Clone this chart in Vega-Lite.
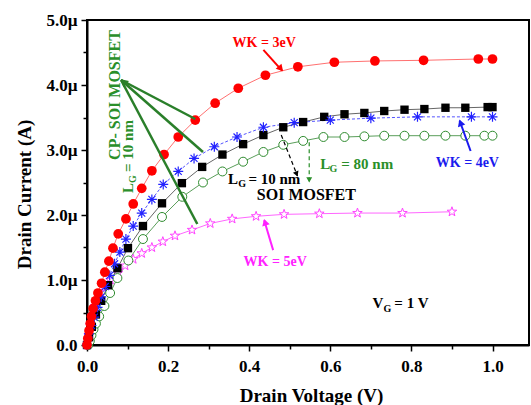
{
 "$schema": "https://vega.github.io/schema/vega-lite/v6.json",
 "width": 442, "height": 325,
 "autosize": {"type": "none"},
 "padding": {"left": 87, "top": 20, "right": 2, "bottom": 60},
 "background": "white",
 "config": {
  "view": {"stroke": "black", "strokeWidth": 2},
  "axis": {"grid": false, "domainColor": "black", "domainWidth": 2, "tickColor": "black", "tickWidth": 1.5,
   "labelFont": "Liberation Serif", "labelFontWeight": "bold", "labelFontSize": 17, "labelColor": "black",
   "titleFont": "Liberation Serif", "titleFontWeight": "bold", "titleFontSize": 19, "titleColor": "black",
   "labelFlush": false, "labelOverlap": false},
  "text": {"font": "Liberation Serif", "fontWeight": "bold"}
 },
 "datasets": {
  "curves": [
   {"s":"r","x":0,"y":0},{"s":"r","x":0.002,"y":0.1},{"s":"r","x":0.005,"y":0.22},{"s":"r","x":0.008,"y":0.33},{"s":"r","x":0.011,"y":0.44},{"s":"r","x":0.015,"y":0.56},{"s":"r","x":0.021,"y":0.68},{"s":"r","x":0.027,"y":0.8},{"s":"r","x":0.036,"y":0.95},{"s":"r","x":0.044,"y":1.12},{"s":"r","x":0.054,"y":1.29},{"s":"r","x":0.064,"y":1.49},{"s":"r","x":0.077,"y":1.71},{"s":"r","x":0.096,"y":1.94},{"s":"r","x":0.114,"y":2.17},{"s":"r","x":0.135,"y":2.41},{"s":"r","x":0.16,"y":2.68},{"s":"r","x":0.19,"y":2.93},{"s":"r","x":0.225,"y":3.2},{"s":"r","x":0.267,"y":3.46},{"s":"r","x":0.316,"y":3.72},{"s":"r","x":0.373,"y":3.95},{"s":"r","x":0.44,"y":4.15},{"s":"r","x":0.52,"y":4.28},{"s":"r","x":0.61,"y":4.35},{"s":"r","x":0.71,"y":4.37},{"s":"r","x":0.83,"y":4.38},{"s":"r","x":0.965,"y":4.4},{"s":"r","x":1.0,"y":4.4},
   {"s":"b","x":0,"y":0},{"s":"b","x":0.005,"y":0.17},{"s":"b","x":0.011,"y":0.3},{"s":"b","x":0.018,"y":0.43},{"s":"b","x":0.026,"y":0.58},{"s":"b","x":0.035,"y":0.74},{"s":"b","x":0.045,"y":0.9},{"s":"b","x":0.056,"y":1.07},{"s":"b","x":0.068,"y":1.25},{"s":"b","x":0.081,"y":1.43},{"s":"b","x":0.096,"y":1.63},{"s":"b","x":0.114,"y":1.83},{"s":"b","x":0.135,"y":2.03},{"s":"b","x":0.16,"y":2.24},{"s":"b","x":0.188,"y":2.47},{"s":"b","x":0.225,"y":2.67},{"s":"b","x":0.264,"y":2.87},{"s":"b","x":0.314,"y":3.05},{"s":"b","x":0.37,"y":3.2},{"s":"b","x":0.435,"y":3.35},{"s":"b","x":0.511,"y":3.42},{"s":"b","x":0.6,"y":3.46},{"s":"b","x":0.7,"y":3.49},{"s":"b","x":0.815,"y":3.51},{"s":"b","x":0.948,"y":3.51},{"s":"b","x":1.0,"y":3.51},
   {"s":"k","x":0,"y":0},{"s":"k","x":0.005,"y":0.12},{"s":"k","x":0.012,"y":0.28},{"s":"k","x":0.022,"y":0.47},{"s":"k","x":0.035,"y":0.68},{"s":"k","x":0.052,"y":0.92},{"s":"k","x":0.075,"y":1.18},{"s":"k","x":0.101,"y":1.49},{"s":"k","x":0.138,"y":1.83},{"s":"k","x":0.185,"y":2.18},{"s":"k","x":0.234,"y":2.49},{"s":"k","x":0.284,"y":2.74},{"s":"k","x":0.334,"y":2.93},{"s":"k","x":0.385,"y":3.09},{"s":"k","x":0.435,"y":3.23},{"s":"k","x":0.484,"y":3.35},{"s":"k","x":0.533,"y":3.43},{"s":"k","x":0.585,"y":3.51},{"s":"k","x":0.635,"y":3.55},{"s":"k","x":0.684,"y":3.57},{"s":"k","x":0.733,"y":3.6},{"s":"k","x":0.783,"y":3.62},{"s":"k","x":0.832,"y":3.63},{"s":"k","x":0.884,"y":3.65},{"s":"k","x":0.933,"y":3.65},{"s":"k","x":0.988,"y":3.66},{"s":"k","x":1.0,"y":3.66},
   {"s":"g","x":0.003,"y":0.0},{"s":"g","x":0.007,"y":0.06},{"s":"g","x":0.011,"y":0.15},{"s":"g","x":0.016,"y":0.24},{"s":"g","x":0.022,"y":0.33},{"s":"g","x":0.03,"y":0.44},{"s":"g","x":0.043,"y":0.6},{"s":"g","x":0.057,"y":0.8},{"s":"g","x":0.075,"y":1.03},{"s":"g","x":0.102,"y":1.3},{"s":"g","x":0.138,"y":1.63},{"s":"g","x":0.185,"y":1.97},{"s":"g","x":0.235,"y":2.28},{"s":"g","x":0.286,"y":2.5},{"s":"g","x":0.334,"y":2.67},{"s":"g","x":0.385,"y":2.82},{"s":"g","x":0.435,"y":2.97},{"s":"g","x":0.484,"y":3.08},{"s":"g","x":0.533,"y":3.14},{"s":"g","x":0.583,"y":3.2},{"s":"g","x":0.635,"y":3.2},{"s":"g","x":0.684,"y":3.21},{"s":"g","x":0.733,"y":3.22},{"s":"g","x":0.783,"y":3.22},{"s":"g","x":0.832,"y":3.22},{"s":"g","x":0.884,"y":3.22},{"s":"g","x":0.933,"y":3.22},{"s":"g","x":0.98,"y":3.22},{"s":"g","x":1.0,"y":3.22},
   {"s":"m","x":0,"y":0},{"s":"m","x":0.004,"y":0.15},{"s":"m","x":0.008,"y":0.3},{"s":"m","x":0.013,"y":0.45},{"s":"m","x":0.02,"y":0.6},{"s":"m","x":0.03,"y":0.75},{"s":"m","x":0.042,"y":0.88},{"s":"m","x":0.058,"y":1.0},{"s":"m","x":0.077,"y":1.11},{"s":"m","x":0.094,"y":1.22},{"s":"m","x":0.114,"y":1.32},{"s":"m","x":0.135,"y":1.41},{"s":"m","x":0.16,"y":1.5},{"s":"m","x":0.187,"y":1.59},{"s":"m","x":0.217,"y":1.68},{"s":"m","x":0.259,"y":1.77},{"s":"m","x":0.304,"y":1.87},{"s":"m","x":0.358,"y":1.94},{"s":"m","x":0.417,"y":1.98},{"s":"m","x":0.486,"y":2.01},{"s":"m","x":0.573,"y":2.02},{"s":"m","x":0.667,"y":2.03},{"s":"m","x":0.778,"y":2.03},{"s":"m","x":0.9,"y":2.05}
  ],
  "arrows": [
   {"s":"r","x":0.435,"y":4.54,"x2":0.481,"y2":4.22},
   {"s":"b","x":0.946,"y":2.985,"x2":0.919,"y2":3.45},
   {"s":"m","x":0.459,"y":1.46,"x2":0.437,"y2":1.92},
   {"s":"g","x":0.267,"y":3.477,"x2":0.084,"y2":4.077},
   {"s":"g","x":0.286,"y":2.969,"x2":0.084,"y2":4.077},
   {"s":"g","x":0.272,"y":1.862,"x2":0.084,"y2":4.077},
   {"s":"kd","x":0.479,"y":3.23,"x2":0.519,"y2":2.6},
   {"s":"gd","x":0.548,"y":3.12,"x2":0.548,"y2":2.51}
  ],
  "heads": [
   {"s":"r","x":0.478,"y":4.25},
   {"s":"b","x":0.921,"y":3.42},
   {"s":"m","x":0.439,"y":1.89},
   {"s":"g","x":0.09,"y":4.05},
   {"s":"kd","x":0.517,"y":2.63},
   {"s":"gd","x":0.548,"y":2.54}
  ],
  "labels": [
   {"s":"r","t":"WK = 3eV","x":0.437,"y":4.646},
   {"s":"b","t":"WK = 4eV","x":0.938,"y":2.8},
   {"s":"m","t":"WK = 5eV","x":0.464,"y":1.277},
   {"s":"gr","t":"CP- SOI MOSFET","x":0.069,"y":3.846},
   {"s":"grm","t":"L","x":0.1012,"y":2.338},
   {"s":"grm","t":"= 10 nm","x":0.1012,"y":2.662},
   {"s":"grs","t":"G","x":0.1136,"y":2.492},
   {"s":"gm","t":"L","x":0.575,"y":2.785},
   {"s":"gm","t":"= 80 nm","x":0.627,"y":2.785},
   {"s":"gs","t":"G","x":0.598,"y":2.708},
   {"s":"km","t":"L","x":0.348,"y":2.554},
   {"s":"km","t":"= 10 nm","x":0.398,"y":2.554},
   {"s":"ks","t":"G","x":0.373,"y":2.477},
   {"s":"km","t":"V","x":0.704,"y":0.646},
   {"s":"km","t":"= 1 V","x":0.758,"y":0.646},
   {"s":"ks","t":"G","x":0.731,"y":0.554},
   {"s":"kb","t":"SOI MOSFET","x":0.541,"y":2.308}
  ]
 },
 "encoding": {
  "x": {"field": "x", "type": "quantitative", "scale": {"domain": [0, 1.09], "nice": false},
   "axis": {"title": "Drain Voltage (V)", "values": [0,0.1,0.2,0.3,0.4,0.5,0.6,0.7,0.8,0.9,1.0],
    "labelExpr": "round(datum.value*10)%2==0 ? format(datum.value,'.1f') : ''",
    "tickSize": {"condition": {"test": "round(datum.value*10)%2==0", "value": 6}, "value": 4},
    "labelPadding": 7, "titleX": 224, "titleY": 56, "titleBaseline": "alphabetic"}},
  "y": {"field": "y", "type": "quantitative", "scale": {"domain": [0, 5], "nice": false},
   "axis": {"title": "Drain Current (A)", "values": [0,0.5,1,1.5,2,2.5,3,3.5,4,4.5,5],
    "labelExpr": "round(datum.value*2)%2==0 ? (datum.value==0 ? '0.0' : format(datum.value,'.1f')+'µ') : ''",
    "tickSize": {"condition": {"test": "round(datum.value*2)%2==0", "value": 6}, "value": 4},
    "labelPadding": 4, "titleX": -57, "titleY": 174, "titleBaseline": "alphabetic"}}
 },
 "layer": [
  {"data": {"name": "curves"}, "transform": [{"filter": "datum.s=='m'"}], "mark": {"type": "line", "color": "#ff66ff", "strokeWidth": 1}},
  {"data": {"name": "curves"}, "transform": [{"filter": "datum.s=='g'"}], "mark": {"type": "line", "color": "#5a9e5a", "strokeWidth": 1}},
  {"data": {"name": "curves"}, "transform": [{"filter": "datum.s=='k'"}], "mark": {"type": "line", "color": "#666666", "strokeWidth": 1}},
  {"data": {"name": "curves"}, "transform": [{"filter": "datum.s=='b'"}], "mark": {"type": "line", "color": "#5555ff", "strokeWidth": 1, "strokeDash": [3, 2]}},
  {"data": {"name": "curves"}, "transform": [{"filter": "datum.s=='r'"}], "mark": {"type": "line", "color": "#ff7070", "strokeWidth": 1}},
  {"data": {"name": "curves"}, "transform": [{"filter": "datum.s=='m'"}], "mark": {"type": "point", "shape": "M0,-1L0.235,-0.324L0.951,-0.309L0.38,0.124L0.588,0.809L0,0.4L-0.588,0.809L-0.38,0.124L-0.951,-0.309L-0.235,-0.324Z", "size": 100, "filled": false, "fill": "white", "fillOpacity": 1, "stroke": "#ff44ff", "strokeWidth": 1, "opacity": 1}},
  {"data": {"name": "curves"}, "transform": [{"filter": "datum.s=='g'"}], "mark": {"type": "point", "shape": "circle", "size": 80, "filled": false, "fill": "white", "fillOpacity": 1, "stroke": "#2e8b2e", "strokeWidth": 1, "opacity": 1}},
  {"data": {"name": "curves"}, "transform": [{"filter": "datum.s=='k'"}], "mark": {"type": "point", "shape": "square", "size": 70, "filled": true, "color": "#000000", "opacity": 1}},
  {"data": {"name": "curves"}, "transform": [{"filter": "datum.s=='b'"}], "mark": {"type": "point", "shape": "M-1,0L1,0M0,-1L0,1M-0.7,-0.7L0.7,0.7M-0.7,0.7L0.7,-0.7", "size": 100, "filled": false, "stroke": "#2222ff", "strokeWidth": 1.2, "opacity": 1}},
  {"data": {"name": "curves"}, "transform": [{"filter": "datum.s=='r'"}], "mark": {"type": "point", "shape": "circle", "size": 95, "filled": true, "color": "#ff0000", "opacity": 1}},
  {"data": {"name": "arrows"}, "transform": [{"filter": "datum.s=='r'"}], "mark": {"type": "rule", "color": "#ff0000", "strokeWidth": 2}, "encoding": {"x2": {"field": "x2"}, "y2": {"field": "y2"}}},
  {"data": {"name": "arrows"}, "transform": [{"filter": "datum.s=='b'"}], "mark": {"type": "rule", "color": "#1a1aee", "strokeWidth": 2}, "encoding": {"x2": {"field": "x2"}, "y2": {"field": "y2"}}},
  {"data": {"name": "arrows"}, "transform": [{"filter": "datum.s=='m'"}], "mark": {"type": "rule", "color": "#ff22ff", "strokeWidth": 2}, "encoding": {"x2": {"field": "x2"}, "y2": {"field": "y2"}}},
  {"data": {"name": "arrows"}, "transform": [{"filter": "datum.s=='g'"}], "mark": {"type": "rule", "color": "#2a7f2a", "strokeWidth": 2.5}, "encoding": {"x2": {"field": "x2"}, "y2": {"field": "y2"}}},
  {"data": {"name": "arrows"}, "transform": [{"filter": "datum.s=='kd'"}], "mark": {"type": "rule", "color": "#000000", "strokeWidth": 1.2, "strokeDash": [4, 3]}, "encoding": {"x2": {"field": "x2"}, "y2": {"field": "y2"}}},
  {"data": {"name": "arrows"}, "transform": [{"filter": "datum.s=='gd'"}], "mark": {"type": "rule", "color": "#2a8f2a", "strokeWidth": 1.2, "strokeDash": [4, 3]}, "encoding": {"x2": {"field": "x2"}, "y2": {"field": "y2"}}},
  {"data": {"name": "heads"}, "transform": [{"filter": "datum.s=='r'"}], "mark": {"type": "point", "shape": "triangle-up", "size": 60, "filled": true, "color": "#ff0000", "opacity": 1, "angle": 138}},
  {"data": {"name": "heads"}, "transform": [{"filter": "datum.s=='b'"}], "mark": {"type": "point", "shape": "triangle-up", "size": 60, "filled": true, "color": "#1a1aee", "opacity": 1, "angle": -20}},
  {"data": {"name": "heads"}, "transform": [{"filter": "datum.s=='m'"}], "mark": {"type": "point", "shape": "triangle-up", "size": 60, "filled": true, "color": "#ff22ff", "opacity": 1, "angle": -17}},
  {"data": {"name": "heads"}, "transform": [{"filter": "datum.s=='g'"}], "mark": {"type": "point", "shape": "triangle-up", "size": 70, "filled": true, "color": "#2a7f2a", "opacity": 1, "angle": -48}},
  {"data": {"name": "heads"}, "transform": [{"filter": "datum.s=='kd'"}], "mark": {"type": "point", "shape": "triangle-up", "size": 35, "filled": true, "color": "#000000", "opacity": 1, "angle": 158}},
  {"data": {"name": "heads"}, "transform": [{"filter": "datum.s=='gd'"}], "mark": {"type": "point", "shape": "triangle-up", "size": 35, "filled": true, "color": "#2a8f2a", "opacity": 1, "angle": 180}},
  {"data": {"name": "labels"}, "transform": [{"filter": "datum.s=='r'"}], "mark": {"type": "text", "color": "#ff0000", "fontSize": 14, "align": "center", "baseline": "middle"}, "encoding": {"text": {"field": "t"}}},
  {"data": {"name": "labels"}, "transform": [{"filter": "datum.s=='b'"}], "mark": {"type": "text", "color": "#1a1aee", "fontSize": 14, "align": "center", "baseline": "middle"}, "encoding": {"text": {"field": "t"}}},
  {"data": {"name": "labels"}, "transform": [{"filter": "datum.s=='m'"}], "mark": {"type": "text", "color": "#ff22ff", "fontSize": 14, "align": "center", "baseline": "middle"}, "encoding": {"text": {"field": "t"}}},
  {"data": {"name": "labels"}, "transform": [{"filter": "datum.s=='gr'"}], "mark": {"type": "text", "color": "#2a8f2a", "fontSize": 16, "align": "center", "baseline": "middle", "angle": 270}, "encoding": {"text": {"field": "t"}}},
  {"data": {"name": "labels"}, "transform": [{"filter": "datum.s=='grm'"}], "mark": {"type": "text", "color": "#2a8f2a", "fontSize": 15, "align": "left", "baseline": "middle", "angle": 270}, "encoding": {"text": {"field": "t"}}},
  {"data": {"name": "labels"}, "transform": [{"filter": "datum.s=='grs'"}], "mark": {"type": "text", "color": "#2a8f2a", "fontSize": 10, "align": "left", "baseline": "middle", "angle": 270}, "encoding": {"text": {"field": "t"}}},
  {"data": {"name": "labels"}, "transform": [{"filter": "datum.s=='gm'"}], "mark": {"type": "text", "color": "#2a8f2a", "fontSize": 15, "align": "left", "baseline": "middle"}, "encoding": {"text": {"field": "t"}}},
  {"data": {"name": "labels"}, "transform": [{"filter": "datum.s=='gs'"}], "mark": {"type": "text", "color": "#2a8f2a", "fontSize": 10, "align": "left", "baseline": "middle"}, "encoding": {"text": {"field": "t"}}},
  {"data": {"name": "labels"}, "transform": [{"filter": "datum.s=='km'"}], "mark": {"type": "text", "color": "#000000", "fontSize": 15, "align": "left", "baseline": "middle"}, "encoding": {"text": {"field": "t"}}},
  {"data": {"name": "labels"}, "transform": [{"filter": "datum.s=='ks'"}], "mark": {"type": "text", "color": "#000000", "fontSize": 10, "align": "left", "baseline": "middle"}, "encoding": {"text": {"field": "t"}}},
  {"data": {"name": "labels"}, "transform": [{"filter": "datum.s=='kb'"}], "mark": {"type": "text", "color": "#000000", "fontSize": 16, "align": "center", "baseline": "middle"}, "encoding": {"text": {"field": "t"}}}
 ]
}
